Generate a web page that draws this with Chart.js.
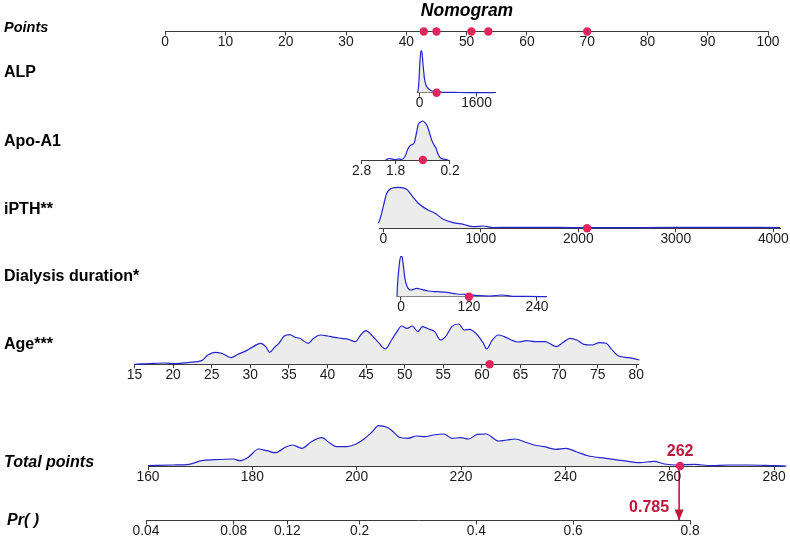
<!DOCTYPE html>
<html>
<head>
<meta charset="utf-8">
<script src="https://cdn.jsdelivr.net/npm/chart.js@4.4.1/dist/chart.umd.min.js"></script>
<style>
html,body{margin:0;padding:0;background:#fff;}
#wrap{position:relative;width:790px;height:537px;overflow:hidden;font-family:"Liberation Sans",Arial,Helvetica,sans-serif;color:#000;}
#wrap canvas{position:absolute;left:0;top:0;}
.lab{position:absolute;left:4px;height:20px;line-height:20px;font-weight:bold;font-size:16px;white-space:nowrap;}
.it{font-style:italic;}
#title{position:absolute;left:367px;width:200px;top:0;height:20px;line-height:20px;text-align:center;font-weight:bold;font-style:italic;font-size:17.5px;}
</style>
</head>
<body>
<div id="wrap">
  <canvas id="cPoints" width="790" height="537"></canvas>
  <canvas id="cAlp" width="790" height="537"></canvas>
  <canvas id="cApo" width="790" height="537"></canvas>
  <canvas id="cPth" width="790" height="537"></canvas>
  <canvas id="cDial" width="790" height="537"></canvas>
  <canvas id="cAge" width="790" height="537"></canvas>
  <canvas id="cPr" width="790" height="537"></canvas>
  <canvas id="cTotal" width="790" height="537"></canvas>
  <div id="title">Nomogram</div>
  <div class="lab it" style="top:17px;font-size:14.5px;">Points</div>
  <div class="lab" style="top:61.5px;">ALP</div>
  <div class="lab" style="top:130.5px;">Apo-A1</div>
  <div class="lab" style="top:198.5px;">iPTH**</div>
  <div class="lab" style="top:266px;">Dialysis duration*</div>
  <div class="lab" style="top:333.5px;">Age***</div>
  <div class="lab it" style="top:451.5px;">Total points</div>
  <div class="lab it" style="top:510px;left:7px;">Pr( )</div>
</div>
<script>
// ---------------- DATA ----------------
const pointsTicks = [0, 10, 20, 30, 40, 50, 60, 70, 80, 90, 100];
const patientPoints = [42.9, 45.0, 50.8, 53.6, 70.0];

const alpTicks = [0, 1600];
const alpX = [-70, -40, -15, 10, 40, 70, 100, 140, 190, 250, 330, 450, 700, 1100, 1600, 2100];
const alpDensity = [0, 2, 12, 30, 42, 40, 28, 14, 7, 4, 2, 1, 0.4, 0.2, 0.1, 0];
const alpValue = 480;

const apoTicks = [2.8, 1.8, 0.2];
const apoX = [2.09, 1.99, 1.89, 1.79, 1.72, 1.62, 1.53, 1.43, 1.35, 1.26, 1.2, 1.13, 1.06, 1.0, 0.93, 0.87, 0.81, 0.74, 0.67, 0.61, 0.56, 0.49, 0.35, 0.25];
const apoDensity = [0, 1.5, 0.8, 0.3, 1.2, 0.5, 3.3, 11.7, 15, 16.7, 25, 36, 38, 39, 37, 34, 28, 20, 15, 11.7, 6.7, 2.3, 0.7, 0];
const apoValue = 1.0;

const pthTicks = [0, 1000, 2000, 3000, 4000];
const pthX = [-100, -50, -17, 35, 86, 154, 240, 291, 359, 445, 530, 615, 718, 820, 923, 1026, 1128, 1333, 1607, 1949, 2633, 3419, 4070];
const pthDensity = [0, 5, 15, 35, 40, 41, 39, 33, 25, 19, 15, 9, 5.7, 4, 1.7, 2.3, 0.7, 1, 1, 0.7, 0.7, 1, 0.7];
const pthValue = 2090;

const dialTicks = [0, 120, 240];
const dialX = [-7, -6.5, -3, -0.6, 1.8, 4, 7, 11, 17, 28, 36.5, 48, 63, 81, 98, 116, 139, 157, 178, 198, 222, 257];
const dialDensity = [0, 8, 32, 40, 40, 32, 18, 10, 6.7, 8.3, 7.3, 5.7, 5, 4.3, 2.7, 2.3, 1, 0.7, 1.7, 0.3, 0.3, 0];
const dialValue = 120;

const ageTicks = [15, 20, 25, 30, 35, 40, 45, 50, 55, 60, 65, 70, 75, 80];
const ageX = [15, 17.6, 18.9, 20.3, 22.1, 23.7, 24.5, 25.4, 26.3, 27.5, 28.4, 29.5, 30.4, 31.3, 32, 32.5, 33.1, 33.7, 34.4, 35.1,
  35.8, 36.4, 37.5, 38.2, 39.1, 40, 40.9, 41.8, 42.7, 43.6, 44.3, 45, 45.7, 46.5, 47.5, 48.3, 49, 49.6, 50.3, 51,
  51.7, 52.3, 53.2, 53.9, 54.6, 55.3, 56.1, 57, 57.7, 58.4, 59.3, 60.2, 60.6, 61.3, 62.1, 62.9, 63.8, 64.7, 65.8, 66.9,
  68.2, 69.6, 70.5, 71.4, 72.3, 73.2, 74.3, 75.2, 76.1, 76.8, 77.7, 79, 80.4, 81.9];
const ageDensity = [0, 1, 1.3, 0.7, 2, 3.7, 9.3, 12, 11, 6.7, 10, 13.7, 17.7, 21, 17.7, 12, 16.7, 21, 28.3, 29.7,
  27, 26, 21, 26, 29.3, 28.3, 27, 26, 25, 22.7, 29.3, 33.7, 29.3, 22.7, 15.3, 24.3, 32.7, 38.3, 36, 38.3,
  32.7, 37.7, 35, 32.7, 24.3, 27.7, 37.7, 40.3, 34.3, 35, 30.3, 21, 15.3, 23.7, 29.3, 27.7, 24.3, 22.3, 23.7, 22.7,
  22.7, 17.7, 21.7, 26, 24.3, 20, 19.3, 21.7, 21, 15, 8.3, 6.7, 4.3, 0];
const ageValue = 61;

const totalTicks = [160, 180, 200, 220, 240, 260, 280];
const totalX = [160, 164.7, 167.9, 170.3, 172.7, 176.4, 177.6, 179.2, 181.2, 182.8, 184.4, 186.5, 187.7, 189.5, 191.3, 193.3, 194.9, 196.1, 198.1, 199.8,
  201.4, 203, 204.2, 205.8, 207, 208.2, 209.8, 211.5, 213.1, 214.7, 216.7, 218.3, 219.9, 221.5, 223.1, 224.8, 227.2, 228.8, 230.4, 232.4,
  234, 236, 238.1, 240.1, 242.1, 244.5, 247.7, 251, 254.2, 257, 259, 261.5, 264.7, 267.9, 271.1, 275.2, 280, 282.4];
const totalDensity = [0.3, 1, 1.7, 5.3, 6.3, 7, 5.3, 8.7, 17, 15.3, 13.3, 19.3, 21, 17.7, 24.3, 28.3, 22.7, 19.3, 19.3, 21.7,
  27, 34.3, 40.3, 38.7, 34.3, 28.7, 27.7, 30, 29.3, 31, 32, 27.7, 28.3, 27, 31.7, 32, 25, 26, 27, 23.7,
  21, 19.3, 16.7, 17.7, 14.3, 10, 7.7, 5.3, 3.3, 4.7, 2, 1, 1.7, 0.3, 1, 1, 0.3, 0];
const totalValue = 262;

const prTicks = [0.04, 0.08, 0.12, 0.2, 0.4, 0.6, 0.8];
const prValue = 0.785;

// ---------------- LAYOUT / STYLE ----------------
const W = 790, H = 537, AXH = 20;
const FONT = '"Liberation Sans", Arial, Helvetica, sans-serif';
const AXIS_COLOR = '#3a3a3a';
const LINE_BLUE = '#2424cc';
const FILL_GRAY = '#ececec';
const DOT_RED = '#e2245e';
const DARK_RED = '#c4163c';

const logit = p => Math.log(p / (1 - p));

const rows = {
  points: {axisY: 31.5, px: [165.2, 768], range: [0, 100], top: 21.5, yMax: 10},
  alp:    {axisY: 92.7, px: [417, 495], range: [-70, 2120]},
  apo:    {axisY: 160,  px: [361.7, 450], range: [0.2, 2.8], reverse: true},
  pth:    {axisY: 228.3, px: [379.4, 780.1], range: [-40, 4070]},
  dial:   {axisY: 296.7, px: [397, 546.6], range: [-7, 257]},
  age:    {axisY: 364.3, px: [134.5, 638.6], range: [15, 80.3]},
  total:  {axisY: 466,  px: [148, 784.5], range: [160, 282]},
  pr:     {axisY: 520.5, px: [146, 690], range: [logit(0.04), logit(0.8)], top: 466, yMax: 1}
};

function pairs(xs, ys) { return xs.map((x, i) => ({x: x, y: ys[i]})); }

function densitySet(xs, ys) {
  return {type: 'line', data: pairs(xs, ys), borderColor: LINE_BLUE, borderWidth: 1.2,
    backgroundColor: FILL_GRAY, fill: 'origin', pointRadius: 0, tension: 0,
    cubicInterpolationMode: 'monotone', clip: false, order: 2};
}
function dotSet(vals) {
  return {type: 'scatter', data: vals.map(v => ({x: v, y: 0})), pointRadius: 4.2,
    backgroundColor: DOT_RED, borderWidth: 0, clip: false, order: 0};
}

function makeChart(id, row, datasets, tickVals, tickLabels, extraPlugins) {
  const yMax = row.yMax || 50;
  const top = row.top !== undefined ? row.top : row.axisY - yMax;
  return new Chart(document.getElementById(id), {
    type: 'line',
    data: {datasets: datasets},
    options: {
      responsive: false, animation: false, events: [],
      layout: {padding: {left: row.px[0], right: W - row.px[1], top: top, bottom: H - row.axisY - AXH}},
      plugins: {legend: {display: false}, tooltip: {enabled: false}, title: {display: false}},
      scales: {
        x: {
          type: 'linear', position: 'bottom', min: row.range[0], max: row.range[1], reverse: !!row.reverse,
          afterFit: s => { s.height = AXH; },
          afterBuildTicks: s => { s.ticks = tickVals.map(v => ({value: v})); },
          ticks: {autoSkip: false, maxRotation: 0, minRotation: 0, padding: -1.5, color: '#1a1a1a',
            font: {family: FONT, size: 13.8}, callback: (v, i) => tickLabels[i]},
          grid: {display: true, drawOnChartArea: false, drawTicks: true, tickLength: 4, color: AXIS_COLOR, lineWidth: 1},
          border: {display: true, color: AXIS_COLOR, width: 1}
        },
        y: {type: 'linear', min: 0, max: yMax, display: false}
      }
    },
    plugins: extraPlugins || []
  });
}

const fmt = arr => arr.map(v => String(v));

makeChart('cPoints', rows.points, [dotSet(patientPoints)], pointsTicks, fmt(pointsTicks));
makeChart('cAlp', rows.alp, [densitySet(alpX, alpDensity), dotSet([alpValue])], alpTicks, fmt(alpTicks));
makeChart('cApo', rows.apo, [densitySet(apoX, apoDensity), dotSet([apoValue])], apoTicks, fmt(apoTicks));
makeChart('cPth', rows.pth, [densitySet(pthX, pthDensity), dotSet([pthValue])], pthTicks, fmt(pthTicks));
makeChart('cDial', rows.dial, [densitySet(dialX, dialDensity), dotSet([dialValue])], dialTicks, fmt(dialTicks));
makeChart('cAge', rows.age, [densitySet(ageX, ageDensity), dotSet([ageValue])], ageTicks, fmt(ageTicks));

const totalLabelPlugin = {
  id: 'totalLabel',
  afterDatasetsDraw(chart) {
    const el = chart.getDatasetMeta(1).data[0];
    const c = chart.ctx;
    c.save();
    c.fillStyle = DARK_RED;
    c.font = 'bold 16px ' + FONT;
    c.textAlign = 'center';
    c.textBaseline = 'middle';
    c.fillText(String(totalValue), el.x, el.y - 14.5);
    c.restore();
  }
};
makeChart('cTotal', rows.total, [densitySet(totalX, totalDensity), dotSet([totalValue])], totalTicks, fmt(totalTicks), [totalLabelPlugin]);

const arrowPlugin = {
  id: 'arrowHead',
  afterDatasetsDraw(chart) {
    const pts = chart.getDatasetMeta(0).data;
    const tip = pts[pts.length - 1];
    const c = chart.ctx;
    c.save();
    c.fillStyle = DARK_RED;
    c.beginPath();
    c.moveTo(tip.x, tip.y);
    c.lineTo(tip.x - 4.5, tip.y - 11);
    c.lineTo(tip.x + 4.5, tip.y - 11);
    c.closePath();
    c.fill();
    c.font = 'bold 16px ' + FONT;
    c.textAlign = 'right';
    c.textBaseline = 'middle';
    c.fillText(String(prValue), tip.x - 10, tip.y - 12.5);
    c.restore();
  }
};
const arrowSet = {type: 'line', data: [{x: logit(prValue), y: 1}, {x: logit(prValue), y: 0}],
  borderColor: DARK_RED, borderWidth: 1.6, pointRadius: 0, fill: false, clip: false, order: 0};
makeChart('cPr', rows.pr, [arrowSet], prTicks.map(logit), fmt(prTicks), [arrowPlugin]);
</script>
</body>
</html>
